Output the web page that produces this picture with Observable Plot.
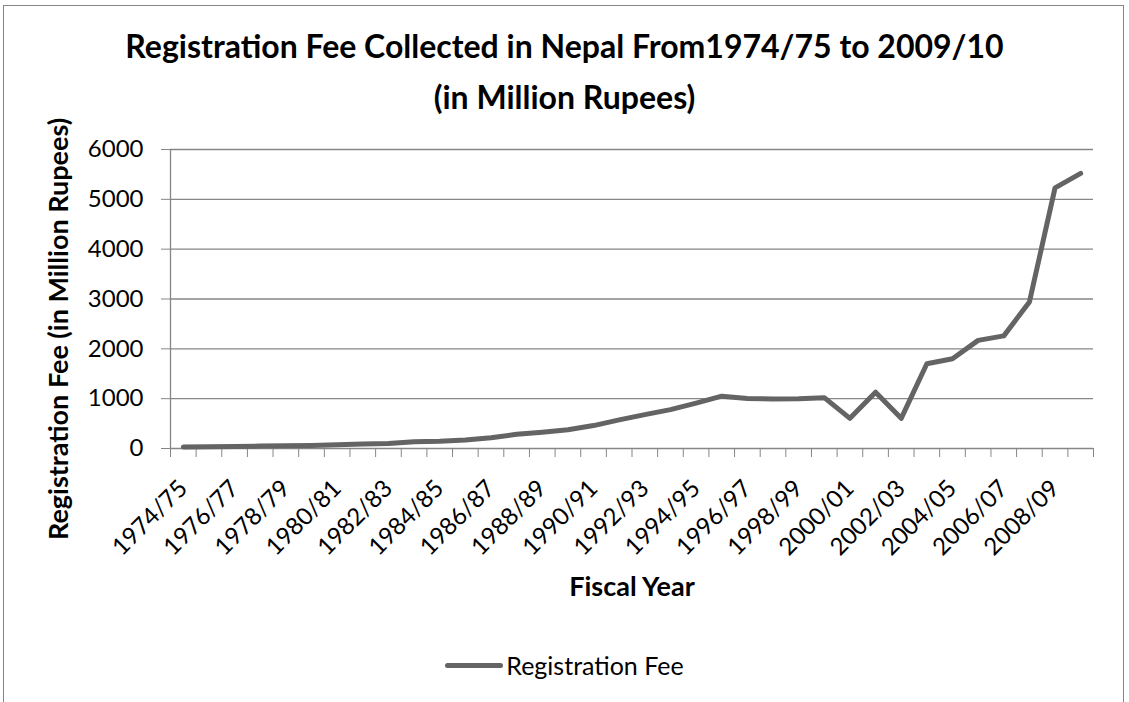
<!DOCTYPE html>
<html><head><meta charset="utf-8">
<script src="https://cdn.jsdelivr.net/npm/d3@7"></script>
<script src="https://cdn.jsdelivr.net/npm/@observablehq/plot@0.6"></script>
<style>
body{margin:0;background:#fff;}
#wrap{position:relative;width:1129px;height:702px;overflow:hidden;background:#fff;font-family:Lato,"Open Sans",sans-serif;color:#000;}
#border{position:absolute;left:3px;top:5px;width:1121px;height:760px;border:1px solid #868686;box-sizing:border-box;}
#title{position:absolute;left:0;width:1129px;top:20px;text-align:center;font-weight:bold;font-size:32px;line-height:51px;}
#chart{position:absolute;left:0;top:0;}
#legend{position:absolute;top:650px;left:0;width:1129px;display:flex;justify-content:center;align-items:center;font-size:25px;}
#legend .sw{width:58px;height:5px;background:#646464;border-radius:3px;margin-right:3px;}
</style></head>
<body>
<div id="wrap">
  <div id="border"></div>
  <div id="title">Registration Fee Collected in Nepal From1974/75 to 2009/10<br>(in Million Rupees)</div>
  <div id="chart"></div>
  <div id="legend"><span class="sw"></span><span>Registration Fee</span></div>
</div>
<script>
const years = ["1974/75","1975/76","1976/77","1977/78","1978/79","1979/80","1980/81","1981/82","1982/83","1983/84",
  "1984/85","1985/86","1986/87","1987/88","1988/89","1989/90","1990/91","1991/92","1992/93","1993/94",
  "1994/95","1995/96","1996/97","1997/98","1998/99","1999/00","2000/01","2001/02","2002/03","2003/04",
  "2004/05","2005/06","2006/07","2007/08","2008/09","2009/10"];
const fees = [30,35,40,48,55,62,75,88,100,135,
  145,170,215,285,325,375,460,575,680,780,
  910,1050,1005,995,1000,1020,605,1130,605,1700,
  1800,2170,2260,2940,5230,5520];
const yTicks = [0,1000,2000,3000,4000,5000,6000];
const seriesName = "Registration Fee";
const yTitle = "Registration Fee (in Million Rupees)";
const xTitle = "Fiscal Year";

const data = years.map((y,i)=>({year:y, pos:i+0.5, fee:fees[i]}));
const grey = "#868686";
const labelTicks = years.map((y,i)=>i+0.5).filter((d,i)=>i%2===0);

const chart = Plot.plot({
  width:1129, height:702,
  marginLeft:170, marginRight:36, marginTop:149, marginBottom:254,
  style:{fontFamily:"Lato, 'Open Sans', sans-serif", background:"transparent", color:"#000", overflow:"visible"},
  x:{type:"linear", domain:[0, years.length]},
  y:{domain:[0,6000]},
  marks:[
    Plot.gridY(yTicks.slice(1), {stroke:grey, strokeOpacity:1, strokeWidth:1.3}),
    Plot.ruleX([0], {stroke:grey, strokeWidth:1.3}),
    Plot.ruleY([0], {stroke:grey, strokeWidth:1.3}),
    Plot.axisY({ticks:yTicks, tickSize:9, tickPadding:18, fontSize:24, stroke:grey, fill:"#000", label:null, tickFormat:d=>String(d)}),
    Plot.axisX({ticks:d3.range(0, years.length+1), tickSize:9, tickFormat:()=>"", stroke:grey, label:null}),
    Plot.axisX({ticks:labelTicks, tickSize:0, tickPadding:36, tickRotate:-45, textAnchor:"end",
      tickFormat:d=>years[Math.floor(d)], fontSize:24, fill:"#000", label:null}),
    Plot.text([yTitle], {frameAnchor:"left", rotate:-90, dx:-111, dy:30, fontSize:27, fontWeight:"bold", textAnchor:"middle", lineAnchor:"middle", fill:"#000"}),
    Plot.text([xTitle], {frameAnchor:"bottom", dy:139, fontSize:27, fontWeight:"bold", textAnchor:"middle", lineAnchor:"middle", fill:"#000"}),
    Plot.line(data, {x:"pos", y:"fee", stroke:"#646464", strokeWidth:5, strokeLinejoin:"round", strokeLinecap:"round"})
  ]
});
document.getElementById("chart").appendChild(chart);
document.getElementById("legend").querySelector("span:last-child").textContent = seriesName;
</script>
</body></html>
